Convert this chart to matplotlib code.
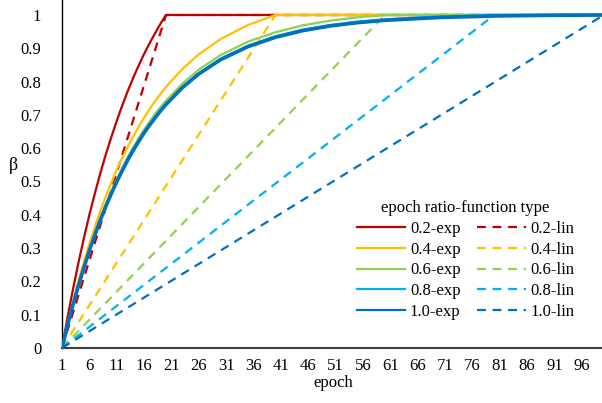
import matplotlib
matplotlib.use("Agg")
import matplotlib.pyplot as plt
from matplotlib.lines import Line2D

plt.rcParams["font.family"] = ["Liberation Serif", "DejaVu Serif"]

epochs = list(range(1, 21)) + [23, 26, 30, 35, 40, 45, 50, 55, 60, 70, 80, 90, 100]

exp02 = [0, 0.091, 0.176, 0.256, 0.330, 0.400, 0.464, 0.525, 0.581, 0.633, 0.682, 0.728,
         0.771, 0.811, 0.848, 0.883, 0.915, 0.945, 0.974, 1.0,
         1.0, 1.0, 1.0, 1.0, 1.0, 1.0, 1.0, 1.0, 1.0, 1.0, 1.0, 1.0, 1.0]
exp04 = [0, 0.072, 0.138, 0.201, 0.259, 0.313, 0.364, 0.411, 0.455, 0.496, 0.535, 0.571,
         0.604, 0.635, 0.664, 0.692, 0.717, 0.741, 0.763, 0.784,
         0.838, 0.882, 0.928, 0.970, 1.0, 1.0, 1.0, 1.0, 1.0, 1.0, 1.0, 1.0, 1.0]
exp06 = [0, 0.068, 0.131, 0.190, 0.245, 0.297, 0.345, 0.390, 0.432, 0.471, 0.507, 0.541,
         0.573, 0.602, 0.630, 0.656, 0.680, 0.703, 0.724, 0.743,
         0.794, 0.836, 0.880, 0.920, 0.948, 0.969, 0.983, 0.993, 1.0, 1.0, 1.0, 1.0, 1.0]
exp08 = [0, 0.067, 0.129, 0.188, 0.242, 0.293, 0.340, 0.385, 0.426, 0.465, 0.501, 0.534,
         0.566, 0.595, 0.622, 0.648, 0.671, 0.694, 0.714, 0.734,
         0.784, 0.825, 0.869, 0.908, 0.936, 0.956, 0.970, 0.980, 0.987, 0.996, 1.0, 1.0, 1.0]
exp10 = [0, 0.067, 0.129, 0.187, 0.241, 0.292, 0.339, 0.384, 0.425, 0.463, 0.499, 0.532,
         0.564, 0.593, 0.620, 0.646, 0.669, 0.691, 0.712, 0.731,
         0.782, 0.823, 0.866, 0.905, 0.933, 0.953, 0.967, 0.977, 0.984, 0.9925, 0.997, 0.999, 1.0]

# linear ramps: start, end of ramp, last epoch
lin_epochs = {"0.2": [1, 20, 100], "0.4": [1, 40, 100], "0.6": [1, 60, 100],
              "0.8": [1, 80, 100], "1.0": [1, 100, 100]}
lin_values = [0, 1, 1]

ratios = ["0.2", "0.4", "0.6", "0.8", "1.0"]
colors = ["#C00000", "#FFC000", "#92D050", "#00B0F0", "#0070C0"]
exp_series = [exp02, exp04, exp06, exp08, exp10]
xticks = list(range(1, 100, 5))
yticks = [0, 0.1, 0.2, 0.3, 0.4, 0.5, 0.6, 0.7, 0.8, 0.9, 1]

fig = plt.figure(figsize=(6.02, 4.03), dpi=100)
ax = fig.add_axes([0.103, 0.1365, 0.9, 0.8635])

dash = (0, (4, 3))
for r, c, ys in zip(ratios, colors, exp_series):
    lw = 2.6 if r == "1.0" else 1.6
    ax.plot(epochs, ys, color=c, lw=lw, zorder=3)
for r, c in zip(ratios, colors):
    ax.plot(lin_epochs[r], lin_values, color=c, lw=1.6, ls=dash, zorder=2)

ax.set_xlim(1, 100)
ax.set_ylim(0, 1.045)
ax.set_xticks(xticks)
ax.set_yticks(yticks)
ax.set_yticklabels([("%g" % v) for v in yticks])
ax.tick_params(length=0, labelsize=12, colors="black")
ax.tick_params(axis="y", pad=15)
ax.tick_params(axis="x", pad=7)
ax.spines["top"].set_visible(False)
ax.spines["right"].set_visible(False)
ax.spines["left"].set_linewidth(1.0)
ax.spines["bottom"].set_linewidth(1.5)
ax.spines["bottom"].set_color("#404040")

ax.set_xlabel("epoch", fontsize=12, labelpad=1)
ax.set_ylabel("β", fontsize=13, rotation=0)
ax.yaxis.set_label_coords(-0.089, 0.5)

handles = [Line2D([], [], color=c, lw=1.6) for c in colors]
handles += [Line2D([], [], color=c, lw=1.6, ls=dash) for c in colors]
labels = [r + "-exp" for r in ratios] + [r + "-lin" for r in ratios]
ax.legend(handles, labels, ncol=2, frameon=False,
          title="epoch ratio-function type", fontsize=12, title_fontsize=12,
          loc="upper left", bbox_to_anchor=(0.516, 0.467),
          handlelength=2.9, handletextpad=0.3, columnspacing=1.0,
          labelspacing=0.28)

fig.savefig("out.png", dpi=100)
